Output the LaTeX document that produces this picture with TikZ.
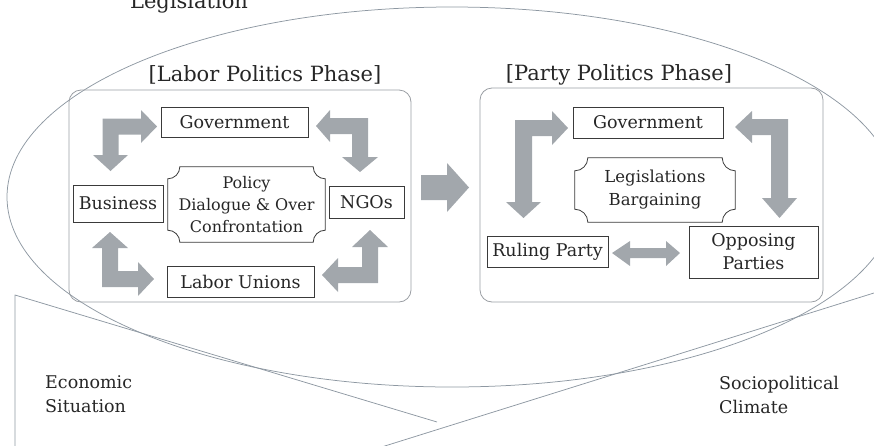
\documentclass[tikz,border=0pt]{standalone}
\usepackage{fontspec}
\setmainfont{DejaVu Serif}
\definecolor{arrowgray}{HTML}{A2A7AC}
\definecolor{linegray}{HTML}{8E98A2}
\definecolor{panelgray}{HTML}{9A9EA3}
\definecolor{boxblack}{HTML}{3A3A3A}
\definecolor{textblack}{HTML}{262626}

% concave-cornered outline around a named node: #1 node, #2 corner radius
\newcommand\plaqueoutline[2]{%
  \draw[boxedge] ([xshift=#2pt]#1.north west) -- ([xshift=-#2pt]#1.north east)
    arc[start angle=180,end angle=90,radius=#2]
    -- ([yshift=#2pt]#1.south east)
    arc[start angle=270,end angle=180,radius=#2]
    -- ([xshift=#2pt]#1.south west)
    arc[start angle=0,end angle=-90,radius=#2]
    -- ([yshift=-#2pt]#1.north west)
    arc[start angle=90,end angle=0,radius=#2] -- cycle;}

\begin{document}
\begin{tikzpicture}[x=1pt,y=-1pt,
  outline/.style={draw=linegray, line width=0.75pt},
  boxedge/.style={draw=boxblack, line width=0.8pt},
  panel/.style={draw=panelgray, line width=0.8pt, rounded corners=12pt, inner sep=0pt},
  labelbox/.style={boxedge, inner sep=0pt, align=center, text=textblack,
    font=\fontsize{17.5}{23}\selectfont},
  plaquebox/.style={inner sep=0pt, align=center, text=textblack},
  title/.style={font=\fontsize{21}{25}\selectfont, text=textblack, inner sep=0pt},
  note/.style={font=\fontsize{17.5}{24}\selectfont, text=textblack, align=left, inner sep=0pt},
  blockarrow/.style={fill=arrowgray, draw=none},
]
\useasboundingbox (0,0) rectangle (874,445);
\clip (0,0) rectangle (874,445);

% surrounding context: ellipse and the two callout wedges
\draw[outline] (452,197) ellipse [x radius=445, y radius=190];
\draw[outline] (15,450) -- (15,295) -- (437,422);
\draw[outline] (380,447.5) -- (880,291.1);

\node[title, anchor=base] (legis) at (189,8) {Legislation};
% base anchor of a two-line note sits on its last line
\node[note, anchor=base west] (econ) at (45,412) {Economic\\Situation};
\node[note, anchor=base west] (socio) at (719,413) {Sociopolitical\\Climate};

% phase panels
\node[panel, minimum width=342pt, minimum height=212pt] (panL) at (240,196) {};
\node[panel, minimum width=343pt, minimum height=214pt] (panR) at (651.5,195) {};
\node[title, anchor=base] (ttlL) at (265,81) {[Labor Politics Phase]};
\node[title, anchor=base] (ttlR) at (619,80.5) {[Party Politics Phase]};

% labor politics phase
\node[labelbox, minimum width=147pt, minimum height=30pt] (govL) at (234.5,122) {Government};
\node[labelbox, minimum width=90pt, minimum height=37pt] (busL) at (118,203.5) {Business};
\node[labelbox, minimum width=75pt, minimum height=32pt] (ngoL) at (366.5,202) {NGOs};
\node[labelbox, minimum width=147pt, minimum height=31pt] (labL) at (240.5,281.5) {Labor Unions};
\node[plaquebox, minimum width=157pt, minimum height=75pt,
  font=\fontsize{16}{22}\selectfont] (pdL) at (246.5,204.5)
  {Policy\\Dialogue \& Over\\Confrontation};
\plaqueoutline{pdL}{12}

% party politics phase
\node[labelbox, minimum width=150pt, minimum height=31pt] (govR) at (648,122.5) {Government};
\node[plaquebox, minimum width=160pt, minimum height=64pt,
  font=\fontsize{16.5}{23}\selectfont] (legR) at (655,190)
  {Legislations\\Bargaining};
\plaqueoutline{legR}{13}
\node[labelbox, minimum width=121pt, minimum height=31pt] (rulR) at (547.5,251.5) {Ruling Party};
\node[labelbox, minimum width=129pt, minimum height=52pt] (oppR) at (753.5,252) {Opposing\\Parties};

% block arrows, labor politics phase
\fill[blockarrow] (102.5,155) -- (93,155) -- (110.5,171) -- (128,155) -- (118.5,155)
  -- (118.5,134.5) -- (141,134.5) -- (141,143) -- (157,126.5) -- (141,110)
  -- (141,118.5) -- (102.5,118.5) -- cycle;
\fill[blockarrow] (368,118) -- (330,118) -- (330,110) -- (316,126) -- (330,142)
  -- (330,134) -- (352,134) -- (352,157) -- (342,157) -- (360,172) -- (378,157)
  -- (368,157) -- cycle;
\fill[blockarrow] (102,287) -- (102,248) -- (92,248) -- (110,232) -- (128,248)
  -- (118,248) -- (118,271) -- (138,271) -- (138,262) -- (154,279) -- (138,296)
  -- (138,287) -- cycle;
\fill[blockarrow] (378,283) -- (338,283) -- (338,292) -- (322,275) -- (338,258)
  -- (338,267) -- (362,267) -- (362,247) -- (352,247) -- (370,230) -- (388,247)
  -- (378,247) -- cycle;

% transition between the phases
\fill[blockarrow] (421,175) -- (447,175) -- (447,163) -- (469,187.5) -- (447,212)
  -- (447,200) -- (421,200) -- cycle;

% block arrows, party politics phase
\fill[blockarrow] (515,202) -- (506,202) -- (523.5,218) -- (541,202) -- (532,202)
  -- (532,136) -- (552,136) -- (552,145) -- (568,128) -- (552,111) -- (552,120)
  -- (515,120) -- cycle;
\fill[blockarrow] (788,119) -- (752,119) -- (752,111) -- (735,127) -- (752,143)
  -- (752,135) -- (771,135) -- (771,198) -- (762,198) -- (779.5,218) -- (797,198)
  -- (788,198) -- cycle;
\fill[blockarrow] (612,253) -- (630,241) -- (630,248) -- (666,248) -- (666,241)
  -- (680,253) -- (666,266) -- (666,258) -- (630,258) -- (630,266) -- cycle;
\end{tikzpicture}
\end{document}
